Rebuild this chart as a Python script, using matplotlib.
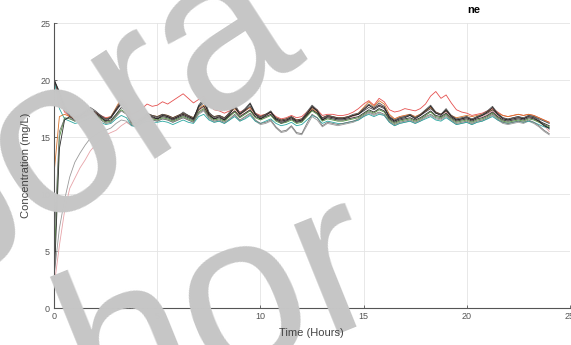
import numpy as np
import matplotlib
matplotlib.use("Agg")
import matplotlib.pyplot as plt

plt.rcParams["font.family"] = ["Liberation Sans", "DejaVu Sans"]

# concentration (mg/L) sampled every 0.25 h, one list per node
node_a = [20.0, 18.6, 17.4, 16.9, 16.7, 16.9, 17.1, 17.4, 17.2, 16.9, 16.6, 16.7, 17.3, 17.9, 17.5, 16.5, 16.4, 16.7, 17.0, 16.9, 16.8, 17.0, 16.9, 16.7, 16.9, 17.1, 16.9, 16.7, 17.6, 18.0, 17.1, 16.8, 16.9, 16.7, 17.1, 17.6, 17.0, 17.3, 17.7, 17.0, 16.8, 17.0, 17.2, 16.7, 16.5, 16.6, 16.8, 16.5, 16.6, 17.1, 17.6, 17.3, 16.7, 16.9, 16.8, 16.7, 16.7, 16.8, 16.9, 17.0, 17.3, 17.6, 17.4, 17.7, 17.5, 16.8, 16.5, 16.7, 16.8, 16.9, 16.7, 16.9, 17.2, 17.5, 17.1, 17.0, 17.3, 16.9, 16.6, 16.7, 16.8, 16.6, 16.8, 16.9, 17.1, 17.4, 17.0, 16.7, 16.6, 16.7, 16.8, 16.7, 16.9, 16.8, 16.6, 16.4, 16.2]
node_b = [2.5, 14.0, 16.5, 16.8, 16.5, 16.7, 16.9, 17.2, 17.0, 16.7, 16.4, 16.5, 17.0, 17.6, 17.3, 16.3, 16.2, 16.5, 16.8, 16.7, 16.6, 16.8, 16.7, 16.5, 16.7, 16.9, 16.7, 16.5, 17.4, 17.7, 16.9, 16.6, 16.7, 16.5, 16.9, 17.3, 16.8, 17.1, 17.4, 16.8, 16.6, 16.8, 17.0, 16.5, 16.3, 16.4, 16.6, 16.3, 16.4, 16.9, 17.4, 17.1, 16.5, 16.7, 16.6, 16.5, 16.5, 16.6, 16.7, 16.8, 17.1, 17.4, 17.2, 17.5, 17.3, 16.6, 16.3, 16.5, 16.6, 16.7, 16.5, 16.7, 17.0, 17.3, 16.9, 16.8, 17.1, 16.7, 16.4, 16.5, 16.6, 16.4, 16.6, 16.7, 16.9, 17.2, 16.8, 16.5, 16.4, 16.5, 16.6, 16.5, 16.7, 16.6, 16.4, 16.2, 16.0]
node_c = [20.0, 19.0, 17.8, 17.1, 16.8, 17.0, 17.3, 17.6, 17.3, 16.9, 16.5, 16.8, 17.5, 18.2, 17.6, 16.4, 16.2, 16.6, 17.1, 16.9, 16.7, 17.0, 16.8, 16.5, 16.8, 17.2, 16.9, 16.5, 17.8, 18.4, 17.2, 16.7, 16.9, 16.6, 17.2, 17.9, 17.1, 17.5, 18.0, 17.1, 16.7, 17.0, 17.3, 16.6, 16.2, 16.4, 16.8, 16.3, 16.5, 17.2, 17.8, 17.4, 16.6, 16.9, 16.8, 16.6, 16.6, 16.8, 17.0, 17.1, 17.5, 17.9, 17.6, 18.0, 17.7, 16.8, 16.4, 16.7, 16.8, 17.0, 16.7, 17.0, 17.4, 17.8, 17.2, 17.0, 17.5, 16.9, 16.5, 16.6, 16.8, 16.5, 16.8, 17.0, 17.3, 17.7, 17.1, 16.7, 16.5, 16.7, 16.8, 16.6, 16.9, 16.8, 16.5, 16.1, 15.7]
node_d = [6.0, 15.5, 16.6, 16.7, 16.4, 16.6, 16.8, 17.0, 16.8, 16.5, 16.2, 16.3, 16.8, 17.3, 17.0, 16.1, 16.0, 16.3, 16.6, 16.5, 16.4, 16.6, 16.5, 16.3, 16.5, 16.7, 16.5, 16.3, 17.1, 17.4, 16.7, 16.4, 16.5, 16.3, 16.6, 17.0, 16.5, 16.8, 17.1, 16.5, 16.2, 16.3, 16.5, 15.9, 15.5, 15.6, 16.0, 15.4, 15.3, 16.2, 17.0, 16.7, 16.0, 16.3, 16.2, 16.1, 16.2, 16.3, 16.4, 16.6, 16.9, 17.2, 17.0, 17.2, 17.0, 16.4, 16.1, 16.3, 16.4, 16.5, 16.3, 16.5, 16.8, 17.0, 16.7, 16.6, 16.9, 16.5, 16.2, 16.3, 16.4, 16.2, 16.4, 16.5, 16.7, 17.0, 16.6, 16.3, 16.2, 16.3, 16.4, 16.3, 16.5, 16.3, 16.0, 15.6, 15.3]
node_e = [20.0, 18.2, 17.2, 16.8, 16.7, 16.9, 17.1, 17.3, 17.2, 16.9, 16.7, 16.8, 17.4, 18.2, 17.8, 17.0, 17.2, 17.5, 17.9, 17.7, 17.8, 18.1, 17.9, 18.2, 18.5, 18.8, 18.4, 18.0, 18.3, 18.6, 17.9, 17.4, 17.3, 17.1, 17.3, 17.6, 17.2, 17.4, 17.6, 17.1, 16.9, 17.0, 17.2, 16.8, 16.6, 16.7, 16.9, 16.7, 16.8, 17.2, 17.6, 17.4, 16.9, 17.0, 17.0, 16.9, 16.9, 17.0, 17.2, 17.5, 17.9, 18.2, 17.8, 18.4, 18.1, 17.4, 17.2, 17.3, 17.5, 17.4, 17.3, 17.5, 17.9, 18.6, 19.0, 18.4, 18.7, 18.0, 17.4, 17.2, 17.1, 16.9, 17.0, 17.1, 17.3, 17.5, 17.2, 16.9, 16.8, 16.9, 17.0, 16.9, 17.0, 16.9, 16.7, 16.5, 16.3]
node_f = [2.0, 5.5, 8.5, 10.5, 11.4, 12.3, 13.0, 13.8, 14.3, 14.8, 15.2, 15.4, 15.6, 16.0, 16.3, 16.0, 16.1, 16.5, 16.8, 16.7, 16.6, 16.9, 16.8, 16.6, 16.8, 17.0, 16.8, 16.6, 17.3, 17.6, 16.9, 16.6, 16.8, 16.6, 16.9, 17.3, 16.9, 17.1, 17.4, 16.9, 16.7, 16.9, 17.1, 16.6, 16.4, 16.5, 16.7, 16.4, 16.5, 16.9, 17.4, 17.1, 16.6, 16.8, 16.7, 16.6, 16.6, 16.7, 16.8, 17.0, 17.4, 17.8, 17.5, 17.9, 17.6, 16.9, 16.6, 16.8, 16.9, 17.0, 16.8, 17.0, 17.3, 17.6, 17.2, 17.0, 17.2, 16.8, 16.5, 16.6, 16.7, 16.5, 16.7, 16.8, 17.0, 17.3, 16.9, 16.6, 16.5, 16.6, 16.7, 16.6, 16.8, 16.6, 16.3, 16.0, 15.5]
node_g = [3.0, 7.0, 9.5, 11.5, 12.8, 13.6, 14.3, 14.9, 15.2, 15.5, 15.6, 15.8, 16.2, 16.5, 16.4, 16.0, 16.0, 16.3, 16.6, 16.5, 16.4, 16.6, 16.5, 16.3, 16.5, 16.7, 16.5, 16.3, 17.0, 17.3, 16.6, 16.3, 16.4, 16.2, 16.5, 16.9, 16.4, 16.7, 17.0, 16.4, 16.1, 16.2, 16.4, 15.8, 15.4, 15.5, 15.9, 15.3, 15.2, 16.0, 16.8, 16.5, 15.9, 16.2, 16.1, 16.0, 16.1, 16.2, 16.3, 16.5, 16.8, 17.1, 16.9, 17.1, 16.9, 16.3, 16.0, 16.2, 16.3, 16.4, 16.2, 16.4, 16.7, 16.9, 16.6, 16.5, 16.8, 16.4, 16.1, 16.2, 16.3, 16.1, 16.3, 16.4, 16.6, 16.9, 16.5, 16.2, 16.1, 16.2, 16.3, 16.2, 16.4, 16.2, 15.9, 15.5, 15.2]
node_h = [20.0, 17.5, 16.6, 16.4, 16.2, 16.3, 16.5, 16.7, 16.6, 16.3, 16.1, 16.2, 16.6, 16.9, 16.7, 16.0, 15.9, 16.2, 16.4, 16.3, 16.3, 16.4, 16.3, 16.1, 16.3, 16.5, 16.3, 16.2, 16.8, 17.0, 16.5, 16.3, 16.4, 16.2, 16.5, 16.8, 16.4, 16.6, 16.9, 16.4, 16.2, 16.4, 16.6, 16.2, 16.0, 16.1, 16.3, 16.0, 16.1, 16.5, 16.9, 16.7, 16.2, 16.4, 16.3, 16.2, 16.2, 16.3, 16.4, 16.5, 16.8, 17.0, 16.8, 17.0, 16.9, 16.3, 16.0, 16.2, 16.3, 16.4, 16.2, 16.4, 16.6, 16.8, 16.5, 16.4, 16.7, 16.4, 16.1, 16.2, 16.3, 16.1, 16.3, 16.4, 16.6, 16.8, 16.5, 16.3, 16.2, 16.3, 16.4, 16.3, 16.4, 16.3, 16.1, 15.9, 15.8]
node_i = [12.0, 16.8, 17.0, 16.8, 16.6, 16.8, 17.0, 17.3, 17.1, 16.8, 16.6, 16.8, 17.6, 18.4, 17.9, 16.6, 16.4, 16.7, 17.0, 16.9, 16.8, 17.0, 16.9, 16.7, 16.9, 17.1, 16.9, 16.7, 17.5, 17.8, 17.0, 16.8, 16.9, 16.7, 17.1, 17.5, 17.0, 17.3, 17.6, 17.0, 16.8, 17.0, 17.2, 16.7, 16.5, 16.6, 16.8, 16.5, 16.6, 17.0, 17.5, 17.2, 16.7, 16.9, 16.8, 16.7, 16.7, 16.8, 16.9, 17.1, 17.6, 18.1, 17.7, 18.2, 17.9, 17.0, 16.6, 16.8, 16.9, 17.0, 16.8, 17.0, 17.3, 17.6, 17.2, 17.0, 17.3, 16.9, 16.7, 16.8, 16.9, 16.8, 16.9, 17.0, 17.2, 17.4, 17.1, 16.9, 16.8, 16.9, 17.0, 16.9, 17.0, 16.9, 16.7, 16.5, 16.3]
node_j = [4.0, 15.0, 16.7, 16.6, 16.4, 16.6, 16.8, 17.1, 16.9, 16.6, 16.3, 16.4, 16.9, 17.4, 17.1, 16.2, 16.1, 16.4, 16.7, 16.6, 16.5, 16.7, 16.6, 16.4, 16.6, 16.8, 16.6, 16.4, 17.2, 17.5, 16.8, 16.5, 16.6, 16.4, 16.8, 17.2, 16.7, 17.0, 17.3, 16.7, 16.5, 16.7, 16.9, 16.4, 16.2, 16.3, 16.5, 16.2, 16.3, 16.8, 17.3, 17.0, 16.4, 16.6, 16.5, 16.4, 16.4, 16.5, 16.6, 16.7, 17.0, 17.3, 17.1, 17.4, 17.2, 16.5, 16.2, 16.4, 16.5, 16.6, 16.4, 16.6, 16.9, 17.2, 16.8, 16.7, 17.0, 16.6, 16.3, 16.4, 16.5, 16.3, 16.5, 16.6, 16.8, 17.1, 16.7, 16.4, 16.3, 16.4, 16.5, 16.4, 16.6, 16.5, 16.3, 16.1, 15.9]
node_k = [20.0, 18.9, 17.6, 17.0, 16.7, 16.8, 17.2, 17.5, 17.1, 16.8, 16.4, 16.7, 17.4, 18.0, 17.4, 16.3, 16.3, 16.5, 16.9, 16.8, 16.6, 16.9, 16.8, 16.6, 16.8, 17.0, 16.8, 16.6, 17.7, 18.2, 17.0, 16.6, 16.8, 16.5, 17.0, 17.7, 17.0, 17.4, 17.9, 17.0, 16.6, 16.9, 17.2, 16.6, 16.4, 16.5, 16.7, 16.4, 16.5, 17.0, 17.7, 17.3, 16.5, 16.8, 16.7, 16.6, 16.6, 16.7, 16.9, 17.0, 17.4, 17.8, 17.5, 17.8, 17.6, 16.7, 16.4, 16.6, 16.7, 16.9, 16.6, 16.9, 17.3, 17.7, 17.1, 16.9, 17.4, 16.8, 16.5, 16.6, 16.7, 16.5, 16.7, 16.9, 17.2, 17.6, 17.0, 16.6, 16.5, 16.6, 16.7, 16.6, 16.8, 16.7, 16.4, 16.0, 15.8]

step_h = 0.25
x_ticks = [0, 5, 10, 15, 20, 25]
y_ticks = [0, 5, 10, 15, 20, 25]

series = [
    (node_f, "#e7a3a8"),
    (node_g, "#9a9a9a"),
    (node_e, "#e5504f"),
    (node_h, "#2aa7a0"),
    (node_j, "#4e8f3a"),
    (node_i, "#d9742c"),
    (node_d, "#777777"),
    (node_b, "#2b2b2b"),
    (node_a, "#444444"),
    (node_c, "#555555"),
    (node_k, "#1e1e1e"),
]

fig = plt.figure(figsize=(5.71, 3.45), dpi=100)
ax = fig.add_axes([0.095, 0.107, 0.903, 0.826])

for vals, col in series:
    t = np.arange(len(vals)) * step_h
    ax.plot(t, vals, color=col, lw=0.6)

ax.set_xlim(0, 25)
ax.set_ylim(0, 25)
ax.set_xticks(x_ticks)
ax.set_yticks(y_ticks)
ax.grid(True, color="#e4e4e4", lw=0.6)
ax.set_axisbelow(True)
for s in ["top", "right"]:
    ax.spines[s].set_visible(False)
for s in ["left", "bottom"]:
    ax.spines[s].set_color("#555555")
    ax.spines[s].set_linewidth(0.8)
ax.tick_params(direction="in", length=2.5, width=0.6, colors="#555555",
               labelsize=6.5, pad=3)

fig.text(0.83, 0.97, "ne", fontsize=8, fontweight="bold", color="black",
         ha="center", va="center")

# watermark fragments
fig.text(0.155, 0.64, "pora", fontsize=160, color="#c6c6c6", rotation=33,
         rotation_mode="anchor", ha="center", va="center", zorder=10)
fig.text(0.39, 0.095, "hor", fontsize=160, color="#c6c6c6", rotation=22,
         rotation_mode="anchor", ha="center", va="center", zorder=10)

# axis labels drawn above the watermark
fig.text(0.045, 0.52, "Concentration (mg/L)", fontsize=8, color="#444444",
         rotation=90, ha="center", va="center", zorder=20)
fig.text(0.545, 0.035, "Time (Hours)", fontsize=8, color="#444444",
         ha="center", va="center", zorder=20)

fig.savefig("out.png", dpi=100)
